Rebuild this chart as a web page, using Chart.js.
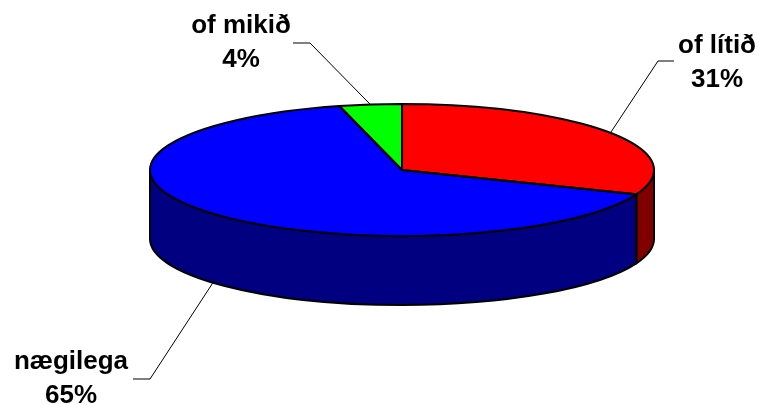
<!DOCTYPE html>
<html>
<head>
<meta charset="utf-8">
<title>of lítið / nægilega / of mikið</title>
<script src="https://cdn.jsdelivr.net/npm/chart.js@4"></script>
<style>
    html, body { margin: 0; padding: 0; background: #fff; }
    canvas { display: block; }
</style>
</head>
<body>
<canvas id="pieChart" width="759" height="405"></canvas>
<script>
// values in percent, clockwise from the top
const categories = ['of lítið', 'nægilega', 'of mikið'];
const shares = [31, 65, 4];
const topColors = ['#ff0000', '#0000ff', '#00ff00'];
const wallColors = ['#800000', '#000080', '#008000'];

// how the flat pie is laid over on its side
const view = { x: 402, y: 170, rx: 252, ry: 66, depth: 69 };

// label placement, one row per category
const labelPos = [
    { x: 717, y: 53, elbowX: 658, elbowY: 61, endX: 674 },
    { x: 71, y: 369, elbowX: 150, elbowY: 379, endX: 133 },
    { x: 241, y: 33, elbowX: 310, elbowY: 43, endX: 293 }
];
const lineGap = 34;

function flatten(ctx, arc, shiftY) {
    ctx.translate(view.x, view.y + shiftY);
    ctx.scale(view.rx / arc.outerRadius, view.ry / arc.outerRadius);
    ctx.translate(-arc.x, -arc.y);
}

function slicePath(ctx, arc) {
    ctx.beginPath();
    ctx.moveTo(arc.x, arc.y);
    ctx.arc(arc.x, arc.y, arc.outerRadius, arc.startAngle, arc.endAngle);
    ctx.closePath();
}

// the side of the pie: only the part of a slice that faces the viewer
function drawWall(ctx, arc, color) {
    const start = Math.max(arc.startAngle, 0);
    const end = Math.min(arc.endAngle, Math.PI);
    if (end <= start) return;

    ctx.save();
    flatten(ctx, arc, 0);
    ctx.beginPath();
    ctx.arc(arc.x, arc.y, arc.outerRadius, start, end);
    ctx.restore();

    ctx.save();
    flatten(ctx, arc, view.depth);
    ctx.arc(arc.x, arc.y, arc.outerRadius, end, start, true);
    ctx.restore();

    ctx.closePath();
    ctx.fillStyle = color;
    ctx.fill();
    ctx.strokeStyle = '#000';
    ctx.lineWidth = 2;
    ctx.lineJoin = 'round';
    ctx.stroke();
}

const pie3d = {
    id: 'pie3d',
    beforeDatasetsDraw(chart) {
        const ctx = chart.ctx;
        const arcs = chart.getDatasetMeta(0).data;
        arcs.forEach((arc, i) => drawWall(ctx, arc, wallColors[i]));

        // the library draws the top face through this transform
        ctx.save();
        flatten(ctx, arcs[0], 0);
    },
    afterDatasetsDraw(chart) {
        const ctx = chart.ctx;
        ctx.restore();

        const arcs = chart.getDatasetMeta(0).data;
        arcs.forEach(arc => {
            ctx.save();
            flatten(ctx, arc, 0);
            slicePath(ctx, arc);
            ctx.restore();
            ctx.strokeStyle = '#000';
            ctx.lineWidth = 2;
            ctx.lineJoin = 'round';
            ctx.stroke();
        });

        drawLabels(chart, arcs);
    }
};

function drawLabels(chart, arcs) {
    const ctx = chart.ctx;
    arcs.forEach((arc, i) => {
        const pos = labelPos[i];
        const mid = (arc.startAngle + arc.endAngle) / 2;
        const fromX = view.x + view.rx * Math.cos(mid);
        let fromY = view.y + view.ry * Math.sin(mid);
        if (Math.sin(mid) > 0) fromY += view.depth;

        ctx.beginPath();
        ctx.moveTo(fromX, fromY);
        ctx.lineTo(pos.elbowX, pos.elbowY);
        ctx.lineTo(pos.endX, pos.elbowY);
        ctx.strokeStyle = '#000';
        ctx.lineWidth = 1;
        ctx.stroke();

        ctx.fillStyle = '#000';
        ctx.font = 'bold 26px "Liberation Sans", Arial, sans-serif';
        ctx.textAlign = 'center';
        ctx.textBaseline = 'alphabetic';
        ctx.fillText(categories[i], pos.x, pos.y);
        ctx.fillText(shares[i] + '%', pos.x, pos.y + lineGap);
    });
}

new Chart(document.getElementById('pieChart'), {
    type: 'pie',
    data: {
        labels: categories,
        datasets: [{
            data: shares,
            backgroundColor: topColors,
            borderWidth: 0,
            clip: false
        }]
    },
    options: {
        responsive: false,
        animation: false,
        layout: { padding: 0 },
        plugins: {
            legend: { display: false },
            tooltip: { enabled: false }
        }
    },
    plugins: [pie3d]
});
</script>
</body>
</html>
